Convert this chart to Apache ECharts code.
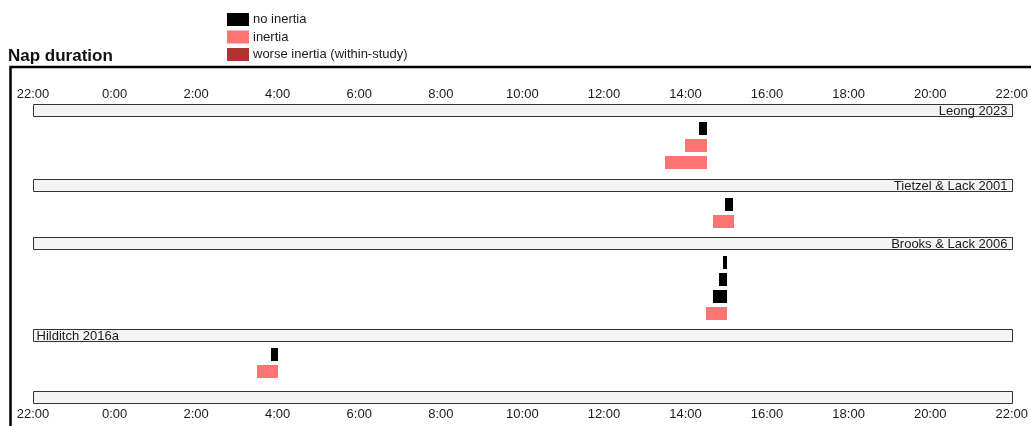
<!DOCTYPE html>
<html>
<head>
<meta charset="utf-8">
<title>Nap duration</title>
<script src="https://cdn.jsdelivr.net/npm/echarts/dist/echarts.min.js"></script>
<style>
  html, body { margin: 0; padding: 0; background: #fff; }
  #chart { width: 1031px; height: 426px; }
</style>
</head>
<body>
<div id="chart"></div>
<script>
// studies, top to bottom
var studies = ['Leong 2023', 'Tietzel & Lack 2001', 'Brooks & Lack 2006', 'Hilditch 2016a'];
var studyLabelSide = ['right', 'right', 'right', 'left'];

// one entry per nap condition
var napStudy = [0, 0, 0, 1, 1, 2, 2, 2, 2, 3, 3];
var napStart = ['14:20', '14:00', '13:30', '14:58', '14:40', '14:55', '14:50', '14:40', '14:30', '3:50', '3:30'];
var napEnd   = ['14:31', '14:31', '14:31', '15:10', '15:11', '15:01', '15:01', '15:01', '15:01', '4:01', '4:01'];
var napType  = ['no inertia', 'inertia', 'inertia', 'no inertia', 'inertia',
                'no inertia', 'no inertia', 'no inertia', 'inertia', 'no inertia', 'inertia'];

var categories = ['no inertia', 'inertia', 'worse inertia (within-study)'];
var categoryColors = ['#000000', '#ff7373', '#b03232'];

// axis runs 22:00 -> 22:00 next day
var axisStart = 22;
var axisEnd = 46;
var tickStep = 2;

var FONT = 'Liberation Sans, Arial, Helvetica, sans-serif';

function toHour(t) {
  var p = t.split(':');
  var h = parseInt(p[0], 10) + parseInt(p[1], 10) / 60;
  if (h < axisStart) h += 24;
  return h;
}

// row positions: study header, then its naps
var headerRows = [];
var napRows = [];
var pos = 0;
for (var s = 0; s < studies.length; s++) {
  if (s > 0) pos += 1.28;
  headerRows.push([axisStart, axisEnd, pos, s]);
  var first = true;
  for (var i = 0; i < napStudy.length; i++) {
    if (napStudy[i] !== s) continue;
    pos += first ? 1.14 : 1;
    first = false;
    napRows.push({ i: i, y: pos });
  }
}
pos += 1.5;
headerRows.push([axisStart, axisEnd, pos, -1]); // closing empty bar

function napData(cat) {
  var out = [];
  napRows.forEach(function (r) {
    if (napType[r.i] === cat) {
      out.push([toHour(napStart[r.i]), toHour(napEnd[r.i]), r.y]);
    }
  });
  return out;
}

function renderNap(params, api) {
  var a = api.coord([api.value(0), api.value(2)]);
  var b = api.coord([api.value(1), api.value(2)]);
  var h = 13;
  return {
    type: 'rect',
    shape: { x: Math.round(a[0]), y: Math.round(a[1] - h / 2), width: Math.round(b[0]) - Math.round(a[0]), height: h },
    style: { fill: api.visual('color') }
  };
}

function renderHeader(params, api) {
  var a = api.coord([api.value(0), api.value(2)]);
  var b = api.coord([api.value(1), api.value(2)]);
  var h = 12;
  var x0 = Math.round(a[0]) + 0.5;
  var x1 = Math.round(b[0]) + 0.5;
  var y0 = Math.round(a[1] - h / 2) + 0.5;
  var idx = api.value(3);
  var children = [{
    type: 'rect',
    shape: { x: x0, y: y0, width: x1 - x0, height: h },
    style: { fill: '#f4f4f4', stroke: '#333', lineWidth: 1 }
  }];
  if (idx >= 0) {
    var right = studyLabelSide[idx] === 'right';
    children.push({
      type: 'text',
      style: {
        x: right ? x1 - 5 : x0 + 3,
        y: y0 + h / 2 + 0.5,
        text: studies[idx],
        fill: '#1a1a1a',
        font: '13px ' + FONT,
        align: right ? 'right' : 'left',
        verticalAlign: 'middle'
      }
    });
  }
  return { type: 'group', children: children };
}

var series = categories.map(function (c, k) {
  return {
    name: c,
    type: 'custom',
    renderItem: renderNap,
    itemStyle: { color: categoryColors[k] },
    encode: { x: [0, 1], y: 2 },
    data: napData(c),
    z: 3
  };
});
series.unshift({
  name: 'studies',
  type: 'custom',
  renderItem: renderHeader,
  encode: { x: [0, 1], y: 2 },
  data: headerRows,
  silent: true,
  z: 2
});

function hourLabel(v) {
  return (v % 24) + ':00';
}

function xAxisOf(position, margin) {
  return {
    type: 'value',
    position: position,
    min: axisStart,
    max: axisEnd,
    interval: tickStep,
    axisLine: { show: false },
    axisTick: { show: false },
    splitLine: { show: false },
    axisLabel: { color: '#1a1a1a', fontSize: 13, fontFamily: FONT, margin: margin, formatter: hourLabel }
  };
}

var option = {
  animation: false,
  textStyle: { fontFamily: FONT },
  title: {
    text: 'Nap duration',
    left: 8,
    top: 48,
    padding: 0,
    textStyle: { fontSize: 17, fontWeight: 'bold', color: '#111', fontFamily: FONT }
  },
  legend: {
    data: categories,
    orient: 'vertical',
    left: 227,
    top: 13,
    padding: 0,
    itemWidth: 22,
    itemHeight: 13,
    itemGap: 4.5,
    icon: 'rect',
    textStyle: { fontSize: 13, color: '#1a1a1a', fontFamily: FONT, padding: [0, 0, 0, -1] }
  },
  grid: { left: 33, right: 18, top: 100, bottom: 20 },
  xAxis: [xAxisOf('top', -1), xAxisOf('bottom', 2)],
  yAxis: {
    type: 'value',
    inverse: true,
    min: -0.56,
    max: 17.44,
    show: false
  },
  graphic: [{
    type: 'rect',
    left: 8,
    top: 64.5,
    shape: { width: 1100, height: 400 },
    style: { fill: 'none', stroke: '#000', lineWidth: 2.5 },
    z: 10
  }],
  series: series
};

var myChart = echarts.init(document.getElementById('chart'));
myChart.setOption(option);
</script>
</body>
</html>
